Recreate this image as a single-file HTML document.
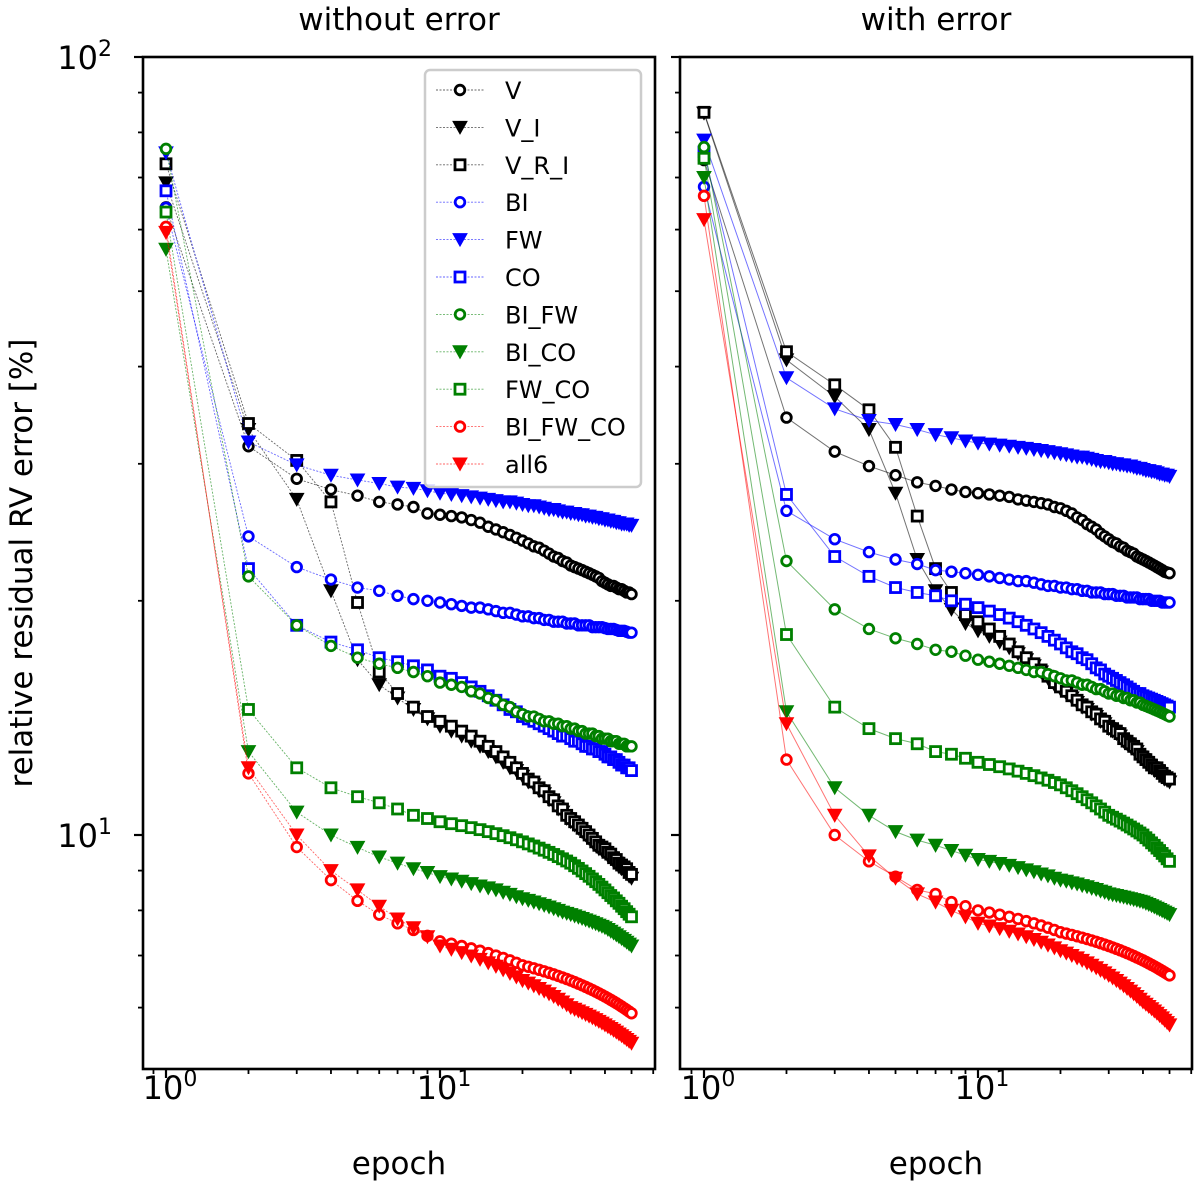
<!DOCTYPE html>
<html><head><meta charset="utf-8"><style>
html,body{margin:0;padding:0;background:#fff;}
svg{display:block;font-family:"DejaVu Sans","Liberation Sans",sans-serif;}
</style></head><body>
<svg id="chart" width="1200" height="1188" viewBox="0 0 1200 1188" xmlns="http://www.w3.org/2000/svg"></svg>
<script>
const epochs = Array.from({length:50},(_,i)=>i+1);
const seriesNames = ["V","V_I","V_R_I","BI","FW","CO","BI_FW","BI_CO","FW_CO","BI_FW_CO","all6"];
const seriesColors = ["#000","#000","#000","#0000ff","#0000ff","#0000ff","#008000","#008000","#008000","#ff0000","#ff0000"];
const seriesMarkers = ["o","v","s","o","v","s","o","v","s","o","v"];

const L_V=[64.1,31.6,28.7,27.8,27.3,26.8,26.6,26.4,25.9,25.8,25.7,25.6,25.4,25.2,24.9,24.7,24.5,24.3,24.1,23.9,23.7,23.5,23.4,23.2,23.0,22.8,22.7,22.5,22.4,22.2,22.1,22.0,21.9,21.8,21.7,21.6,21.5,21.4,21.2,21.1,21.0,20.9,20.9,20.8,20.7,20.7,20.6,20.5,20.5,20.4];
const L_V_I=[68.9,33.2,27.0,20.6,16.8,15.6,15.0,14.5,14.1,13.8,13.6,13.4,13.2,13.0,12.8,12.6,12.4,12.2,12.1,11.9,11.7,11.6,11.4,11.3,11.1,11.0,10.8,10.7,10.5,10.4,10.3,10.2,10.1,10.0,9.9,9.8,9.7,9.6,9.55,9.5,9.4,9.35,9.25,9.2,9.1,9.05,9.0,8.95,8.85,8.8];
const L_V_R_I=[72.9,33.8,30.3,26.8,19.9,16.2,15.2,14.6,14.2,14.0,13.8,13.6,13.4,13.2,13.0,12.8,12.6,12.4,12.2,12.0,11.8,11.7,11.5,11.4,11.2,11.1,10.9,10.8,10.6,10.5,10.4,10.3,10.2,10.1,10.0,9.9,9.8,9.7,9.65,9.6,9.5,9.45,9.35,9.3,9.2,9.15,9.1,9.05,8.95,8.9];
const L_BI=[64.0,24.2,22.1,21.3,20.8,20.6,20.3,20.1,20.0,19.9,19.8,19.7,19.6,19.6,19.5,19.4,19.3,19.3,19.2,19.1,19.1,19.0,19.0,18.9,18.9,18.8,18.8,18.8,18.7,18.7,18.7,18.6,18.6,18.6,18.6,18.5,18.5,18.5,18.5,18.45,18.4,18.4,18.4,18.35,18.3,18.3,18.3,18.25,18.2,18.2];
const L_FW=[75.3,32.0,29.9,29.0,28.6,28.3,28.0,27.9,27.7,27.5,27.4,27.3,27.2,27.1,27.0,26.9,26.8,26.8,26.7,26.6,26.5,26.5,26.4,26.3,26.2,26.2,26.1,26.0,26.0,25.9,25.9,25.8,25.8,25.7,25.7,25.6,25.6,25.5,25.5,25.4,25.4,25.3,25.3,25.2,25.2,25.1,25.1,25.1,25.0,25.0];
const L_CO=[67.3,22.0,18.6,17.7,17.3,16.9,16.7,16.5,16.3,16.0,15.9,15.7,15.5,15.3,15.1,14.9,14.7,14.5,14.4,14.2,14.1,14.0,13.9,13.8,13.7,13.6,13.5,13.4,13.4,13.3,13.2,13.2,13.1,13.0,13.0,12.9,12.9,12.8,12.8,12.7,12.6,12.6,12.5,12.5,12.4,12.3,12.3,12.2,12.2,12.1];
const L_BI_FW=[76.2,21.5,18.6,17.5,16.9,16.6,16.4,16.2,16.0,15.7,15.6,15.5,15.3,15.2,15.0,14.9,14.7,14.6,14.4,14.3,14.2,14.2,14.1,14.0,14.0,13.9,13.9,13.8,13.8,13.7,13.7,13.6,13.6,13.5,13.5,13.5,13.4,13.4,13.3,13.3,13.3,13.2,13.2,13.2,13.1,13.1,13.1,13.0,13.0,13.0];
const L_BI_CO=[56.6,12.8,10.7,10.0,9.64,9.37,9.2,9.05,8.95,8.84,8.78,8.72,8.66,8.6,8.55,8.5,8.44,8.39,8.33,8.28,8.24,8.2,8.16,8.12,8.08,8.04,8.0,7.96,7.93,7.9,7.87,7.84,7.81,7.78,7.75,7.72,7.69,7.66,7.63,7.6,7.56,7.52,7.48,7.44,7.40,7.36,7.32,7.28,7.24,7.2];
const L_FW_CO=[63.2,14.5,12.2,11.5,11.2,11.0,10.8,10.6,10.5,10.4,10.34,10.28,10.22,10.16,10.1,10.04,9.98,9.92,9.86,9.8,9.74,9.68,9.62,9.56,9.5,9.44,9.38,9.32,9.26,9.2,9.13,9.06,8.99,8.92,8.85,8.78,8.71,8.64,8.57,8.5,8.43,8.36,8.3,8.23,8.17,8.1,8.04,7.97,7.91,7.85];
const L_BI_FW_CO=[60.5,12.0,9.65,8.75,8.23,7.9,7.7,7.55,7.42,7.3,7.25,7.2,7.15,7.1,7.05,7.0,6.95,6.9,6.85,6.8,6.77,6.74,6.71,6.68,6.65,6.62,6.59,6.56,6.53,6.5,6.47,6.44,6.41,6.38,6.35,6.32,6.29,6.26,6.23,6.2,6.17,6.14,6.11,6.08,6.05,6.02,5.99,5.96,5.93,5.9];
const L_all6=[59.5,12.2,10.0,9.0,8.5,8.1,7.8,7.6,7.4,7.2,7.13,7.06,6.99,6.92,6.85,6.78,6.71,6.64,6.57,6.5,6.45,6.4,6.35,6.3,6.25,6.2,6.15,6.1,6.05,6.0,5.97,5.94,5.91,5.88,5.85,5.82,5.79,5.76,5.73,5.7,5.67,5.64,5.61,5.58,5.55,5.52,5.49,5.46,5.43,5.4];

const R_V=[73.7,34.4,31.1,29.8,29.0,28.4,28.1,27.8,27.6,27.5,27.4,27.3,27.2,27.0,26.9,26.8,26.7,26.6,26.4,26.3,26.1,25.9,25.6,25.4,25.1,24.9,24.7,24.4,24.2,24.0,23.8,23.7,23.5,23.4,23.2,23.1,23.0,22.8,22.7,22.6,22.5,22.4,22.3,22.2,22.1,22.0,21.9,21.8,21.75,21.7];
const R_V_I=[84.7,40.8,36.6,33.2,27.5,22.6,20.6,19.5,18.7,18.3,18.0,17.7,17.4,17.1,16.8,16.5,16.2,15.9,15.6,15.4,15.2,15.0,14.8,14.6,14.5,14.3,14.2,14.0,13.9,13.7,13.6,13.5,13.4,13.2,13.1,13.0,12.9,12.8,12.6,12.5,12.4,12.3,12.2,12.1,12.1,12.0,11.9,11.8,11.75,11.7];
const R_V_R_I=[84.9,41.8,37.9,35.2,31.5,25.7,22.0,20.5,19.2,18.8,18.4,18.0,17.6,17.2,16.9,16.6,16.3,16.0,15.7,15.5,15.3,15.1,14.9,14.7,14.6,14.4,14.3,14.1,14.0,13.8,13.7,13.6,13.5,13.3,13.2,13.1,13.0,12.9,12.7,12.6,12.5,12.4,12.3,12.2,12.2,12.1,12.0,11.9,11.85,11.8];
const R_BI=[68.1,26.1,24.0,23.1,22.6,22.3,21.9,21.8,21.7,21.6,21.5,21.4,21.3,21.2,21.2,21.1,21.0,20.9,20.9,20.8,20.8,20.7,20.7,20.6,20.6,20.5,20.5,20.5,20.4,20.4,20.4,20.3,20.3,20.3,20.2,20.2,20.2,20.2,20.1,20.1,20.1,20.1,20.0,20.0,20.0,20.0,19.9,19.9,19.9,19.9];
const R_FW=[78.2,38.7,35.3,34.1,33.7,33.2,32.7,32.4,32.1,31.9,31.8,31.7,31.6,31.5,31.4,31.3,31.2,31.1,31.0,30.9,30.8,30.7,30.6,30.6,30.5,30.4,30.3,30.2,30.2,30.1,30.0,30.0,29.9,29.9,29.8,29.8,29.7,29.6,29.6,29.5,29.4,29.4,29.3,29.3,29.2,29.1,29.1,29.0,29.0,28.9];
const R_CO=[75.5,27.4,22.8,21.5,20.8,20.5,20.3,20.0,19.8,19.6,19.4,19.2,19.0,18.8,18.6,18.4,18.2,18.0,17.8,17.6,17.4,17.2,17.1,16.9,16.8,16.6,16.4,16.3,16.1,16.0,15.9,15.8,15.7,15.6,15.5,15.4,15.3,15.2,15.2,15.1,15.05,15.0,14.95,14.9,14.85,14.8,14.75,14.7,14.65,14.6];
const R_BI_FW=[76.6,22.5,19.5,18.4,17.9,17.6,17.3,17.2,17.0,16.8,16.7,16.6,16.5,16.4,16.3,16.2,16.2,16.1,16.0,15.9,15.8,15.8,15.7,15.6,15.6,15.5,15.4,15.4,15.3,15.2,15.2,15.1,15.1,15.0,15.0,14.9,14.9,14.8,14.8,14.7,14.65,14.6,14.55,14.5,14.45,14.4,14.35,14.3,14.25,14.2];
const R_BI_CO=[70.0,14.4,11.5,10.6,10.1,9.85,9.7,9.55,9.42,9.3,9.25,9.19,9.14,9.08,9.02,8.97,8.91,8.86,8.8,8.75,8.72,8.68,8.65,8.61,8.58,8.54,8.51,8.47,8.44,8.4,8.38,8.36,8.34,8.32,8.3,8.28,8.26,8.24,8.22,8.2,8.17,8.14,8.11,8.08,8.05,8.02,7.99,7.96,7.93,7.9];
const R_FW_CO=[74.1,18.1,14.6,13.7,13.3,13.1,12.8,12.7,12.55,12.4,12.32,12.24,12.16,12.08,12.0,11.92,11.84,11.76,11.68,11.6,11.5,11.4,11.3,11.2,11.1,11.0,10.9,10.8,10.7,10.6,10.54,10.48,10.42,10.36,10.3,10.24,10.18,10.12,10.06,10.0,9.92,9.85,9.77,9.7,9.62,9.55,9.47,9.4,9.32,9.25];
const R_BI_FW_CO=[66.3,12.5,10.0,9.25,8.84,8.5,8.4,8.2,8.1,8.0,7.95,7.9,7.85,7.8,7.75,7.7,7.65,7.6,7.55,7.5,7.47,7.44,7.41,7.38,7.35,7.32,7.29,7.26,7.23,7.2,7.17,7.14,7.11,7.08,7.05,7.02,6.99,6.96,6.93,6.9,6.87,6.84,6.81,6.78,6.75,6.72,6.69,6.66,6.63,6.6];
const R_all6=[61.8,13.9,10.6,9.4,8.8,8.4,8.2,8.0,7.85,7.7,7.64,7.58,7.52,7.46,7.4,7.34,7.28,7.22,7.16,7.1,7.05,7.0,6.95,6.9,6.85,6.8,6.75,6.7,6.65,6.6,6.55,6.5,6.45,6.4,6.35,6.3,6.25,6.2,6.15,6.1,6.06,6.02,5.98,5.94,5.9,5.86,5.82,5.78,5.74,5.7];

const leftData = [L_V,L_V_I,L_V_R_I,L_BI,L_FW,L_CO,L_BI_FW,L_BI_CO,L_FW_CO,L_BI_FW_CO,L_all6];
const rightData = [R_V,R_V_I,R_V_R_I,R_BI,R_FW,R_CO,R_BI_FW,R_BI_CO,R_FW_CO,R_BI_FW_CO,R_all6];
const yMajorTicks = [10,100];
const yMinorTicks = [6,7,8,9,20,30,40,50,60,70,80,90];
const xMajorTicks = [1,10];
const xMinorTicks = [0.9,2,3,4,5,6,7,8,9,20,30,40,50,60];

const NS="http://www.w3.org/2000/svg";
const svg=document.getElementById('chart');
function mk(tag,attrs,parent){const e=document.createElementNS(NS,tag);for(const k in attrs)e.setAttribute(k,attrs[k]);(parent||svg).appendChild(e);return e;}

const TOP=57, BOT=1069, DEC=778;
function yScale(v){return TOP+DEC*(2-Math.log10(v));}
const panels=[
  {x0:143,x1:655,origin:166,data:leftData,title:"without error",dashed:true,name:"left-panel"},
  {x0:680,x1:1192,origin:704,data:rightData,title:"with error",dashed:false,name:"right-panel"}
];
const XDEC=274;

function marker(g,type,cx,cy,color){
  let m;
  if(type==="o"){m=mk('circle',{cx:cx,cy:cy,r:4.8,fill:'#fff',stroke:color,'stroke-width':2.8},g);}
  else if(type==="v"){m=mk('path',{d:`M${cx-7},${cy-6}L${cx+7},${cy-6}L${cx},${cy+6.5}Z`,fill:color,stroke:color,'stroke-width':1},g);}
  else {m=mk('rect',{x:cx-5,y:cy-5,width:10,height:10,fill:'#fff',stroke:color,'stroke-width':2.8},g);}
  return m;
}

panels.forEach((p,pi)=>{
  const xScale=e=>p.origin+XDEC*Math.log10(e);
  const pg=mk('g',{});
  
  
  const cid='clip'+pi;
  const cp=mk('clipPath',{id:cid},pg);
  mk('rect',{x:p.x0,y:TOP,width:p.x1-p.x0,height:BOT-TOP},cp);
  const plot=mk('g',{'clip-path':`url(#${cid})`},pg);
  p.data.forEach((vals,si)=>{
    const sg=mk('g',{},plot);
    
    
    const pts=vals.map((v,i)=>xScale(epochs[i]).toFixed(2)+','+yScale(v).toFixed(2)).join(' ');
    const line=mk('polyline',{points:pts,fill:'none',stroke:seriesColors[si],'stroke-width':p.dashed?0.9:1,'stroke-opacity':p.dashed?0.6:0.55},sg);
    if(p.dashed)line.setAttribute('stroke-dasharray','2,1.5');
    vals.forEach((v,i)=>{
      const m=marker(sg,seriesMarkers[si],xScale(epochs[i]),yScale(v),seriesColors[si]);
      
      
    });
  });
  const fr=mk('rect',{x:p.x0,y:TOP,width:p.x1-p.x0,height:BOT-TOP,fill:'none',stroke:'#000','stroke-width':2.6},pg);
  
  
  yMajorTicks.forEach(t=>{mk('line',{x1:p.x0-9,x2:p.x0,y1:yScale(t),y2:yScale(t),stroke:'#000','stroke-width':2.2},pg);});
  yMinorTicks.forEach(t=>{mk('line',{x1:p.x0-5,x2:p.x0,y1:yScale(t),y2:yScale(t),stroke:'#000','stroke-width':1.8},pg);});
  xMajorTicks.forEach(t=>{const x=xScale(t);mk('line',{x1:x,x2:x,y1:BOT,y2:BOT+9,stroke:'#000','stroke-width':2.2},pg);
    const tl=mk('text',{x:x+4,y:BOT+30,'text-anchor':'middle','font-size':32,fill:'#000'},pg);
    
    
    tl.textContent='10';
    const sup=mk('tspan',{dy:-13,'font-size':22},tl);sup.textContent=(t===1?'0':'1');
  });
  xMinorTicks.forEach(t=>{const x=xScale(t);if(x>p.x0-2&&x<p.x1+1)mk('line',{x1:x,x2:x,y1:BOT,y2:BOT+5,stroke:'#000','stroke-width':1.8},pg);});
  const xt=mk('text',{x:(p.x0+p.x1)/2,y:1174,'text-anchor':'middle','font-size':31,fill:'#000'},pg);
  
  
  xt.textContent='epoch';
  const tt=mk('text',{x:(p.x0+p.x1)/2,y:30,'text-anchor':'middle','font-size':31,fill:'#000'},pg);
  
  
  tt.textContent=p.title;
  if(pi===0){
    [[100,'2'],[10,'1']].forEach(([v,e])=>{
      const yl=mk('text',{x:112,y:yScale(v)+12,'text-anchor':'end','font-size':32,fill:'#000'},pg);
      
      
      yl.textContent='10';
      const s=mk('tspan',{dy:-13,'font-size':22},yl);s.textContent=e;
    });
  }
});
const yt=mk('text',{x:0,y:0,transform:'translate(32,563) rotate(-90)','text-anchor':'middle','font-size':31,fill:'#000'});


yt.textContent='relative residual RV error [%]';

const lg=mk('g',{});


mk('rect',{x:425,y:70,width:216,height:417,rx:5,fill:'#fff','fill-opacity':0.85,stroke:'#cccccc','stroke-width':2.5},lg);
seriesNames.forEach((n,i)=>{
  const y=90+i*37.4;
  const eg=mk('g',{},lg);
  
  
  mk('line',{x1:436,x2:484,y1:y,y2:y,stroke:seriesColors[i],'stroke-width':0.9,'stroke-dasharray':'2,1.5','stroke-opacity':0.6},eg);
  marker(eg,seriesMarkers[i],460,y,seriesColors[i]);
  const t=mk('text',{x:505,y:y+9,'font-size':24,fill:'#000'},eg);
  t.textContent=n;
});
</script>
</body></html>
